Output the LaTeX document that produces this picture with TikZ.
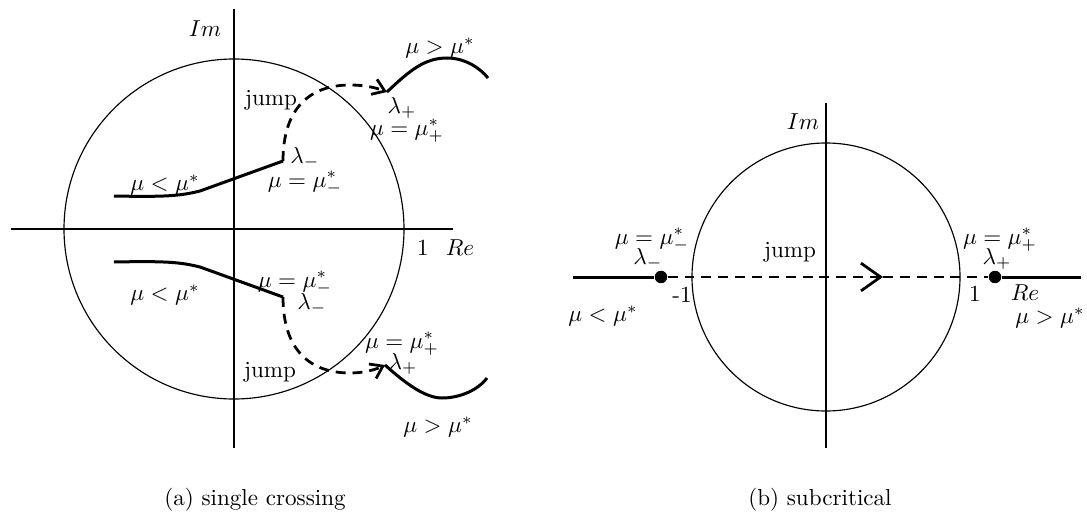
\documentclass[tikz,border=0pt]{standalone}
\usepackage{amsmath}
\usepackage{amssymb}
\usetikzlibrary{arrows.meta}

\tikzset{
  axisline/.style={line width=0.5pt},
  branch/.style={line width=1.3pt},
  jumppath/.style={line width=1.2pt, dash pattern=on 4.3pt off 3pt},
  jumptip/.style={-{Straight Barb[length=5pt,width=7pt,line width=1.2pt]}},
  eigdot/.style={circle, fill, inner sep=0pt, minimum size=5.4pt},
  lbl/.style={inner sep=0.5pt},
}

\begin{document}
\begin{tikzpicture}[x=0.433pt, y=-0.433pt]
  \useasboundingbox (0,0) rectangle (1087,515);

  % (a) single crossing
  \coordinate (aO) at (234,229);
  \coordinate (aT) at (234,9);
  \coordinate (aB) at (234,448);
  \coordinate (aL) at (11,229);
  \coordinate (aR) at (453,229);
  \draw [axisline] (aL) -- (aR);
  \draw [axisline] (aT) -- (aB);
  \draw [axisline] (aO) circle[radius=170];

  \coordinate (upstart) at (114,196);
  \coordinate (upminus) at (283,161);
  \coordinate (upplus) at (387,92);
  \coordinate (upend) at (488,78);
  \coordinate (lostart) at (114,262);
  \coordinate (lominus) at (283,297);
  \coordinate (loplus) at (385,365);
  \coordinate (loend) at (487,378);

  \draw [branch] (upstart) .. controls (165,197) and (180,196) .. (200,191) -- (upminus);
  \draw [jumppath, jumptip] (upminus) .. controls (283,108) and (310,85) .. (350,85)
        .. controls (365,85) and (377,88) .. (upplus);
  \draw [branch] (upplus) .. controls (410,70) and (425,58) .. (447,58)
        .. controls (465,58) and (480,68) .. (upend);

  \draw [branch] (lostart) .. controls (165,261) and (180,262) .. (200,267) -- (lominus);
  \draw [jumppath, jumptip] (lominus) .. controls (283,350) and (310,373) .. (350,373)
        .. controls (365,373) and (377,369) .. (loplus);
  \draw [branch] (loplus) .. controls (405,383) and (425,398) .. (442,398)
        .. controls (460,398) and (478,390) .. (loend);

  \node (aim) [lbl] at (205,29) {$Im$};
  \node (aone) [lbl] at (423,248) {1};
  \node (are) [lbl] at (460,248) {$Re$};
  \node (uplow) [lbl] at (165,185) {$\mu<\mu^*$};
  \node (uplam) [lbl] at (305,158) {$\lambda_-$};
  \node (upmum) [lbl] at (305,183) {$\mu=\mu^*_-$};
  \node (upjump) [lbl] at (271,100) {jump};
  \node (uplap) [lbl] at (402,108) {$\lambda_+$};
  \node (upmup) [lbl] at (407,131) {$\mu=\mu^*_+$};
  \node (uphigh) [lbl] at (440,48) {$\mu>\mu^*$};
  \node (lolow) [lbl] at (165,295) {$\mu<\mu^*$};
  \node (lomum) [lbl] at (295,283) {$\mu=\mu^*_-$};
  \node (lolam) [lbl] at (312,304) {$\lambda_-$};
  \node (lojump) [lbl] at (270,372) {jump};
  \node (lomup) [lbl] at (402,344) {$\mu=\mu^*_+$};
  \node (lolap) [lbl] at (403,364) {$\lambda_+$};
  \node (lohigh) [lbl] at (438,427) {$\mu>\mu^*$};
  \node (capa) [lbl] at (255,500) {(a) single crossing};

  % (b) subcritical
  \coordinate (bO) at (826,277);
  \coordinate (bT) at (826,103);
  \coordinate (bB) at (826,448);
  \coordinate (bL) at (573,277);
  \coordinate (bR) at (1081,277);
  \coordinate (bmid) at (883,277);
  \draw [axisline] (bT) -- (bB);
  \draw [axisline] (bO) circle[radius=134];
  \node (lamminus) [eigdot] at (661,277) {};
  \node (lamplus) [eigdot] at (995,277) {};
  \draw [branch] (bL) -- (lamminus);
  \draw [branch] (lamplus) -- (bR);
  \draw [jumppath, -{Straight Barb[length=8.5pt,width=12pt,line width=1.2pt]}] (lamminus) -- (bmid);
  \draw [jumppath] (bmid) -- (lamplus);

  \node (bim) [lbl] at (803,122) {$Im$};
  \node (bmum) [lbl] at (652,240) {$\mu=\mu^*_-$};
  \node (blam) [lbl] at (648,259) {$\lambda_-$};
  \node (bmone) [lbl] at (682,295) {-1};
  \node (blow) [lbl] at (603,316) {$\mu<\mu^*$};
  \node (bjump) [lbl] at (790,252) {jump};
  \node (bone) [lbl] at (975,294) {1};
  \node (bre) [lbl] at (1025,293) {$Re$};
  \node (bmup) [lbl] at (1000,240) {$\mu=\mu^*_+$};
  \node (blap) [lbl] at (997,259) {$\lambda_+$};
  \node (bhigh) [lbl] at (1050,318) {$\mu>\mu^*$};
  \node (capb) [lbl] at (820,500) {(b) subcritical};
\end{tikzpicture}
\end{document}
